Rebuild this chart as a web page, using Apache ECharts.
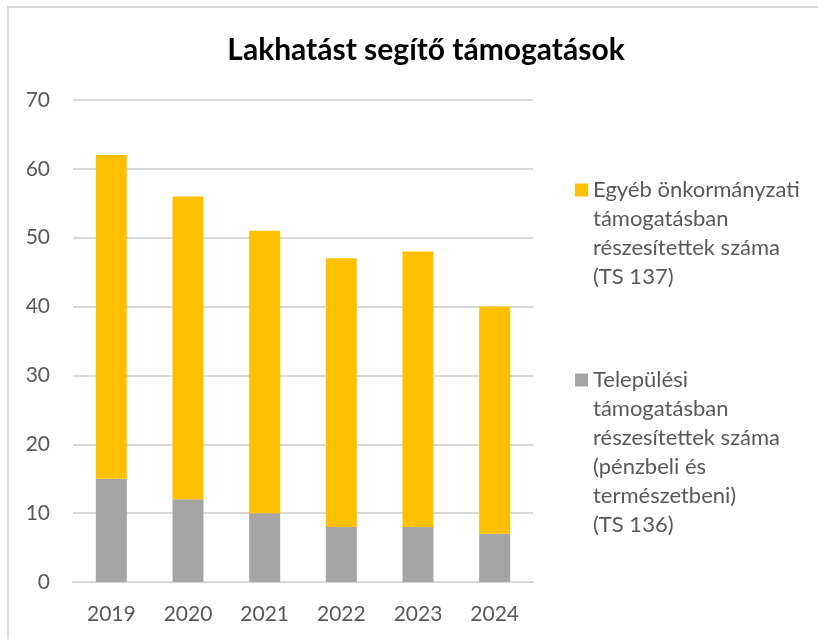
<!DOCTYPE html>
<html>
<head>
<meta charset="utf-8">
<script src="https://cdn.jsdelivr.net/npm/echarts@6/dist/echarts.min.js"></script>
<style>
html,body{margin:0;padding:0;background:#fff;}
#chart{width:818px;height:639px;}
</style>
</head>
<body>
<div id="chart"></div>
<script>
const years = ['2019', '2020', '2021', '2022', '2023', '2024'];
const telepulesi = [15, 12, 10, 8, 8, 7];
const egyeb = [47, 44, 41, 39, 40, 33];
const yTicks = { min: 0, max: 70, interval: 10 };

const nameEgyeb = 'Egyéb önkormányzati támogatásban részesítettek száma (TS 137)';
const nameTelep = 'Települési támogatásban részesítettek száma (pénzbeli és természetbeni) (TS 136)';
const linesEgyeb = ['Egyéb önkormányzati', 'támogatásban', 'részesítettek száma', '(TS 137)'];
const linesTelep = ['Települési', 'támogatásban', 'részesítettek száma', '(pénzbeli és', 'természetbeni)', '(TS 136)'];

const FONT = 'Lato';
const LH = 29;
function padLines(lines) {
  // blank lines before so the first line sits at the legend marker's centre
  return new Array(lines.length - 1).fill('').concat(lines).join('\n');
}

const chart = echarts.init(document.getElementById('chart'), null, { renderer: 'canvas' });
const legendText = { fontFamily: FONT, fontSize: 22, color: '#595959', lineHeight: LH };
chart.setOption({
  animation: false,
  backgroundColor: '#ffffff',
  textStyle: { fontFamily: FONT },
  title: {
    text: 'Lakhatást segítő támogatások',
    left: 421, top: 30, textAlign: 'center',
    textStyle: { fontFamily: FONT, fontSize: 30, fontWeight: 'bold', color: '#000000' }
  },
  graphic: [{
    type: 'rect', silent: true, z: -1,
    shape: { x: 8, y: 7, width: 900, height: 800 },
    style: { fill: 'none', stroke: '#D9D9D9', lineWidth: 2 }
  }],
  legend: [
    {
      data: [nameEgyeb], orient: 'vertical', left: 575,
      top: 190 - (linesEgyeb.length * 2 - 1) * LH / 2,
      padding: 0, itemWidth: 13, itemHeight: 13, itemGap: 0,
      icon: 'rect', textStyle: legendText,
      formatter: () => padLines(linesEgyeb)
    },
    {
      data: [nameTelep], orient: 'vertical', left: 575,
      top: 380 - (linesTelep.length * 2 - 1) * LH / 2,
      padding: 0, itemWidth: 13, itemHeight: 13, itemGap: 0,
      icon: 'rect', textStyle: legendText,
      formatter: () => padLines(linesTelep)
    }
  ],
  grid: { left: 73, right: 285, top: 100, bottom: 57, containLabel: false },
  xAxis: {
    type: 'category', data: years,
    axisLine: { show: true, lineStyle: { color: '#D9D9D9', width: 2 } },
    axisTick: { show: false },
    axisLabel: { fontFamily: FONT, fontSize: 21, color: '#595959', margin: 22 }
  },
  yAxis: {
    type: 'value', min: yTicks.min, max: yTicks.max, interval: yTicks.interval,
    axisLine: { show: false }, axisTick: { show: false },
    splitLine: { lineStyle: { color: '#D9D9D9', width: 2 } },
    axisLabel: { fontFamily: FONT, fontSize: 21, color: '#595959', margin: 23 }
  },
  series: [
    {
      name: nameTelep, type: 'bar', stack: 'total', data: telepulesi, barWidth: 31,
      itemStyle: { color: '#A5A5A5' }
    },
    {
      name: nameEgyeb, type: 'bar', stack: 'total', data: egyeb, barWidth: 31,
      itemStyle: { color: '#FFC000' }
    }
  ]
});
</script>
</body>
</html>
